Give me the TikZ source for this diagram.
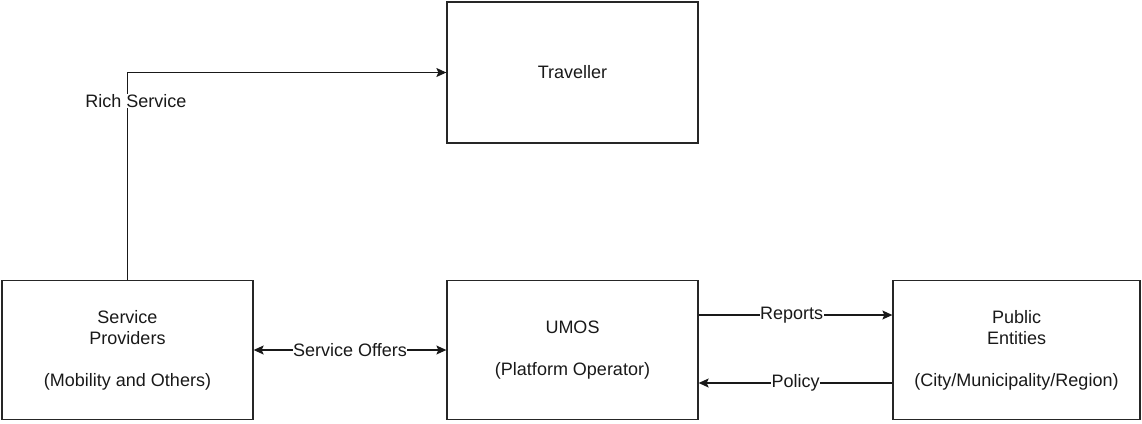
\documentclass[tikz,border=0pt]{standalone}
\usepackage{fontspec}
\setmainfont{Liberation Sans}
\usetikzlibrary{arrows.meta}
\begin{document}
\begin{tikzpicture}[x=1pt,y=-1pt,
  every node/.style={font=\fontsize{18}{21}\selectfont, text=black!90},
  box/.style={draw=black!85, line width=1.3pt, inner sep=0pt, align=center},
  arr/.style={draw=black!90, line width=1.2pt, -{Stealth[length=10pt,width=9pt,inset=2pt]}},
  arrb/.style={draw=black!90, line width=1.2pt, {Stealth[length=10pt,width=9pt,inset=2pt]}-{Stealth[length=10pt,width=9pt,inset=2pt]}},
  lbl/.style={fill=white, inner sep=0.5pt}]
\useasboundingbox (0,0) rectangle (1142,423);
\node[box, minimum width=251pt, minimum height=141pt] (tr) at (572.5,72.5) {Traveller};
\node[box, minimum width=251pt, minimum height=139pt] (sp) at (127.5,350) {Service\\Providers\\[21pt](Mobility and Others)};
\node[box, minimum width=251pt, minimum height=139pt] (um) at (572.5,350) {UMOS\\[21pt](Platform Operator)};
\node[box, minimum width=247pt, minimum height=139pt] (pe) at (1016.5,350) {Public\\Entities\\[21pt](City/Municipality/Region)};
\draw[arr] (sp.north) |- (tr.west);
\node[lbl] (rs) at (136,101) {Rich Service};
\draw[arrb] (sp.east) -- node[lbl] (so) {Service Offers} (um.west);
\draw[arr] ([yshift=35pt]um.east) -- node[lbl, pos=0.48] (rp) {Reports} ([yshift=35pt]pe.west);
\draw[arr] ([yshift=-33pt]pe.west) -- node[lbl, pos=0.5] (po) {Policy} ([yshift=-33pt]um.east);
\end{tikzpicture}
\end{document}
